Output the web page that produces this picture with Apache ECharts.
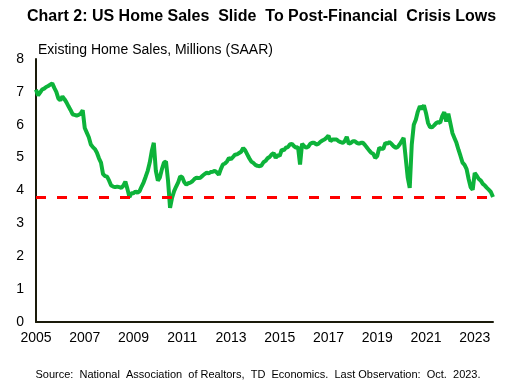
<!DOCTYPE html>
<html>
<head>
<meta charset="utf-8">
<script src="https://cdn.jsdelivr.net/npm/echarts@6/dist/echarts.min.js"></script>
<style>
html,body{margin:0;padding:0;background:#fff;}
#chart{width:516px;height:385px;}
</style>
</head>
<body>
<div id="chart"></div>
<script>
// Monthly categories Jan 2005 - Oct 2023
const months = [];
for (let y = 2005; y <= 2023; y++) {
  for (let m = 1; m <= 12; m++) {
    if (y === 2023 && m > 10) break;
    months.push(y + '-' + (m < 10 ? '0' + m : m));
  }
}
// Existing home sales, millions SAAR
const sales2005 = [7.07, 6.89, 6.98, 7.07, 7.1, 7.15, 7.18, 7.22, 7.26, 7.12, 7.0, 6.8];
const sales2006 = [6.74, 6.86, 6.78, 6.68, 6.56, 6.45, 6.32, 6.3, 6.28, 6.3, 6.34, 6.44];
const sales2007 = [5.9, 5.76, 5.62, 5.4, 5.32, 5.26, 5.15, 4.98, 4.85, 4.5, 4.44, 4.42];
const sales2008 = [4.3, 4.15, 4.12, 4.1, 4.12, 4.1, 4.08, 4.15, 4.27, 4.05, 3.8, 3.92];
const sales2009 = [3.92, 3.97, 3.93, 3.98, 4.12, 4.25, 4.42, 4.6, 4.85, 5.2, 5.45, 4.6];
const sales2010 = [4.3, 4.4, 4.65, 4.85, 4.88, 4.3, 3.47, 3.78, 3.98, 4.12, 4.25, 4.43];
const sales2011 = [4.4, 4.25, 4.18, 4.22, 4.24, 4.28, 4.35, 4.39, 4.38, 4.39, 4.45, 4.5];
const sales2012 = [4.54, 4.52, 4.56, 4.57, 4.6, 4.55, 4.48, 4.65, 4.79, 4.82, 4.88, 4.99];
const sales2013 = [4.95, 5.02, 5.09, 5.1, 5.14, 5.18, 5.29, 5.22, 5.1, 4.98, 4.88, 4.84];
const sales2014 = [4.78, 4.75, 4.74, 4.76, 4.86, 4.9, 4.98, 5.02, 5.09, 5.14, 4.99, 5.08];
const sales2015 = [5.05, 5.24, 5.22, 5.3, 5.32, 5.4, 5.42, 5.35, 5.3, 5.32, 4.79, 5.42];
const sales2016 = [5.35, 5.3, 5.33, 5.42, 5.45, 5.45, 5.4, 5.42, 5.48, 5.52, 5.55, 5.6];
const sales2017 = [5.67, 5.5, 5.55, 5.55, 5.55, 5.5, 5.47, 5.45, 5.5, 5.63, 5.42, 5.45];
const sales2018 = [5.5, 5.5, 5.45, 5.42, 5.45, 5.45, 5.38, 5.3, 5.22, 5.15, 5.12, 4.99];
const sales2019 = [5.05, 5.3, 5.27, 5.27, 5.45, 5.42, 5.47, 5.42, 5.35, 5.3, 5.32, 5.4];
const sales2020 = [5.5, 5.6, 5.0, 4.4, 4.08, 5.4, 6.0, 6.15, 6.4, 6.56, 6.48, 6.59];
const sales2021 = [6.36, 6.06, 5.93, 5.92, 5.98, 6.05, 6.08, 6.06, 6.26, 6.38, 6.1, 6.34];
const sales2022 = [6.05, 5.75, 5.6, 5.45, 5.24, 5.05, 4.85, 4.78, 4.65, 4.35, 4.1, 4.02];
const sales2023 = [4.53, 4.45, 4.35, 4.3, 4.2, 4.15, 4.08, 4.02, 3.95, 3.8];
const lastObservation = 3.8;
const yTicks = [0, 1, 2, 3, 4, 5, 6, 7, 8];

const sales = [].concat(sales2005, sales2006, sales2007, sales2008, sales2009,
  sales2010, sales2011, sales2012, sales2013, sales2014, sales2015, sales2016,
  sales2017, sales2018, sales2019, sales2020, sales2021, sales2022, sales2023);

const chart = echarts.init(document.getElementById('chart'), null, {renderer: 'canvas'});
const font = '"Liberation Sans", Arial, sans-serif';
chart.setOption({
  animation: false,
  backgroundColor: '#ffffff',
  title: [
    {
      text: 'Chart 2: US Home Sales  Slide  To Post-Financial  Crisis Lows',
      left: 22, top: 4,
      textStyle: {fontFamily: font, fontSize: 16, fontWeight: 'bold', color: '#000'}
    },
    {
      text: 'Existing Home Sales, Millions (SAAR)',
      left: 33, top: 38,
      textStyle: {fontFamily: font, fontSize: 14, fontWeight: 'normal', color: '#000'}
    },
    {
      text: 'Source:  National  Association  of Realtors,  TD  Economics.  Last Observation:  Oct.  2023.',
      left: 'center', top: 364,
      textStyle: {fontFamily: font, fontSize: 11, fontWeight: 'normal', color: '#000'}
    }
  ],
  grid: {left: 36, right: 23, top: 59, bottom: 63, containLabel: false},
  xAxis: {
    type: 'category',
    data: months,
    boundaryGap: false,
    axisLine: {show: true, lineStyle: {color: '#1a1a0a', width: 2}},
    axisTick: {show: false},
    splitLine: {show: false},
    axisLabel: {
      interval: function (i) { return i % 24 === 0; },
      formatter: function (v) { return v.slice(0, 4); },
      fontFamily: font, fontSize: 14, color: '#000', margin: 9
    }
  },
  yAxis: {
    type: 'value',
    min: yTicks[0], max: yTicks[yTicks.length - 1], interval: 1,
    axisLine: {show: true, lineStyle: {color: '#1a1a0a', width: 2}},
    axisTick: {show: false},
    splitLine: {show: false},
    axisLabel: {fontFamily: font, fontSize: 14, color: '#000', margin: 12}
  },
  series: [{
    type: 'line',
    data: sales,
    symbol: 'none',
    lineStyle: {color: '#0db33a', width: 4},
    z: 3,
    markLine: {
      silent: true,
      symbol: 'none',
      label: {show: false},
      lineStyle: {color: '#ff0000', width: 3, type: [10, 11]},
      data: [{yAxis: lastObservation}],
      z: 4
    }
  }]
});
</script>
</body>
</html>
